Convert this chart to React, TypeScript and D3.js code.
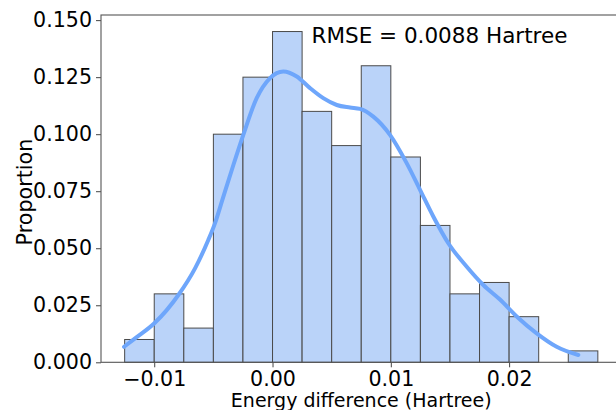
import { useEffect, useRef } from "react";
import * as d3 from "d3";

// histogram bins (left edges) and proportions
const binLefts = [-0.0125, -0.01, -0.0075, -0.005, -0.0025, 0.0, 0.0025, 0.005, 0.0075, 0.01, 0.0125, 0.015, 0.0175, 0.02, 0.0225, 0.025];
const binWidth = 0.0025;
const proportions = [0.01, 0.03, 0.015, 0.1, 0.125, 0.145, 0.11, 0.095, 0.13, 0.09, 0.06, 0.03, 0.035, 0.02, 0.0, 0.005];

// kde curve
const kdeX = [-0.01255, -0.01162, -0.00999, -0.00796, -0.00655, -0.00543, -0.00486, -0.00424, -0.00331, -0.00247, -0.00134, -0.00021, 0.00091, 0.00205, 0.00317, 0.00429, 0.00543, 0.00655, 0.0074, 0.00852, 0.00993, 0.01134, 0.01247, 0.01359, 0.01486, 0.01642, 0.01782, 0.01923, 0.02064, 0.02233, 0.02402, 0.02585];
const kdeY = [0.0068, 0.0105, 0.0171, 0.0295, 0.0412, 0.0536, 0.061, 0.0712, 0.0865, 0.0997, 0.1158, 0.1246, 0.1275, 0.1253, 0.1202, 0.1158, 0.1128, 0.1117, 0.1111, 0.1077, 0.0997, 0.0873, 0.0756, 0.0639, 0.0522, 0.0419, 0.0339, 0.0275, 0.0201, 0.0127, 0.0068, 0.0032];

const xTicks = [-0.01, 0.0, 0.01, 0.02];
const yTicks = [0, 0.025, 0.05, 0.075, 0.1, 0.125, 0.15];

const width = 616;
const height = 410;

const App = () => {
    const ref = useRef<SVGSVGElement | null>(null);

    useEffect(() => {
        const svg = d3.select(ref.current);
        svg.selectAll("*").remove();

        const font = "'DejaVu Sans', sans-serif";
        const left = 101, right = 621.5, top = 15, bottom = 362.3;

        const x = d3.scaleLinear().domain([-0.0145, 0.0295]).range([left, right]);
        const y = d3.scaleLinear().domain([0, 0.15225]).range([bottom, top]);

        // bars
        svg.append("g")
            .selectAll("rect")
            .data(proportions)
            .join("rect")
            .attr("x", (d, i) => x(binLefts[i]))
            .attr("y", d => y(d))
            .attr("width", x(binWidth) - x(0))
            .attr("height", d => y(0) - y(d))
            .attr("fill", d => d > 0 ? "#bad3f9" : "none")
            .attr("stroke", d => d > 0 ? "#4a4a4a" : "none")
            .attr("stroke-width", 1);

        // kde
        const line = d3.line<number>()
            .x((d, i) => x(kdeX[i]))
            .y(d => y(d))
            .curve(d3.curveMonotoneX);

        svg.append("path")
            .attr("d", line(kdeY))
            .attr("fill", "none")
            .attr("stroke", "#6ea6fb")
            .attr("stroke-width", 4)
            .attr("stroke-linecap", "round");

        // axes
        const yAxis = d3.axisLeft(y).tickValues(yTicks).tickFormat(d3.format(".3f")).tickSize(5).tickPadding(4);
        const xAxis = d3.axisBottom(x).tickValues(xTicks).tickFormat(d3.format(".2f")).tickSize(5).tickPadding(4);

        svg.append("g")
            .attr("transform", `translate(${left},0)`)
            .call(yAxis)
            .call(g => g.select(".domain").remove())
            .call(g => g.selectAll(".tick line").attr("stroke", "#444"))
            .call(g => g.selectAll("text")
                .attr("font-family", font)
                .attr("font-size", 20.6)
                .attr("fill", "#000"));

        svg.append("g")
            .attr("transform", `translate(0,${bottom})`)
            .call(xAxis)
            .call(g => g.select(".domain").remove())
            .call(g => g.selectAll(".tick line").attr("stroke", "#444"))
            .call(g => g.selectAll("text")
                .attr("font-family", font)
                .attr("font-size", 20.6)
                .attr("fill", "#000"));

        // spines
        svg.append("rect")
            .attr("x", left)
            .attr("y", top)
            .attr("width", right - left)
            .attr("height", bottom - top)
            .attr("fill", "none")
            .attr("stroke", "#555")
            .attr("stroke-width", 1.1);

        // labels
        svg.append("text")
            .attr("x", (left + right) / 2)
            .attr("y", 406.5)
            .attr("text-anchor", "middle")
            .attr("font-family", font)
            .attr("font-size", 19)
            .text("Energy difference (Hartree)");

        svg.append("text")
            .attr("transform", `translate(32,192) rotate(-90)`)
            .attr("text-anchor", "middle")
            .attr("font-family", font)
            .attr("font-size", 20.7)
            .text("Proportion");

        svg.append("text")
            .attr("x", 311.5)
            .attr("y", 43)
            .attr("font-family", font)
            .attr("font-size", 21.5)
            .text("RMSE = 0.0088 Hartree");
    }, []);

    return (
        <svg
            ref={ref}
            width={width}
            height={height}
            style={{ position: "absolute", left: 0, top: 0, background: "#fff" }}
        />
    );
};

export default App;
